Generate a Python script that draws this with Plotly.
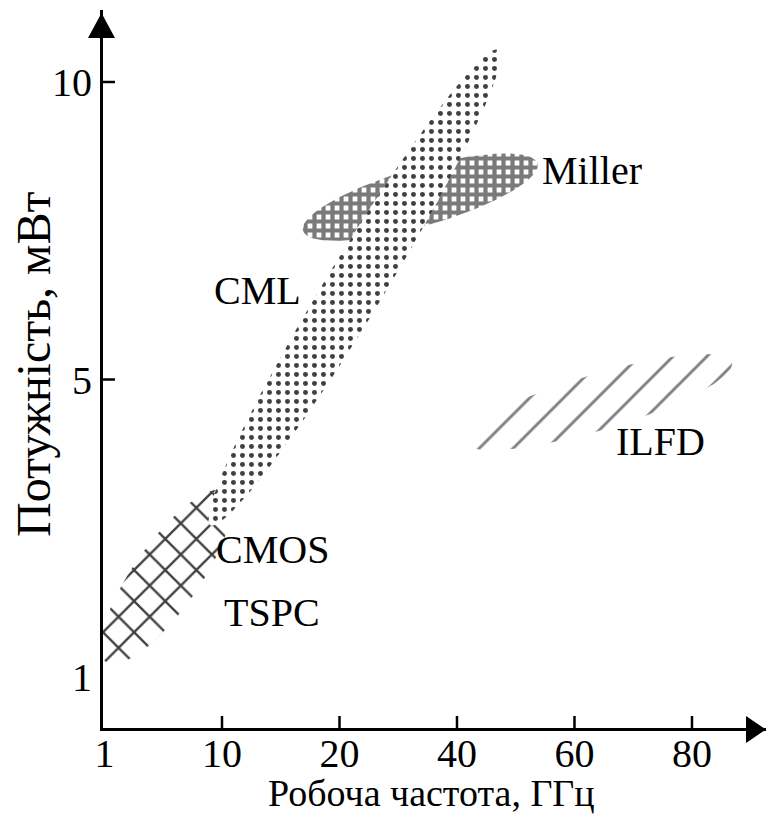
import numpy as np
import plotly.graph_objects as go

# ---------------- data ----------------
freq_ticks = [1, 10, 20, 40, 60, 80]
freq_labels = ["1", "10", "20", "40", "60", "80"]
power_ticks = [1, 5, 10]
power_labels = ["1", "5", "10"]

# regions: major-axis end points (GHz, mW) and half thickness (px)
region_names = ["Miller", "CMOS/TSPC", "CML", "ILFD"]
region_f_start = [16.9, 1.12, 9.1, 41.2]
region_p_start = [7.5, 1.2, 3.04, 4.16]
region_f_end = [53.7, 10.3, 47.1, 86.8]
region_p_end = [8.63, 3.49, 10.54, 5.29]
region_half_width = [29, 33, 29, 28]

label_text = ["Miller", "CML", "ILFD", "CMOS", "TSPC"]
label_f = [63.0, 13.06, 74.7, 14.26, 14.26]
label_p = [8.52, 6.5, 4.17, 2.71, 1.87]

x_title = "Робоча частота, ГГц"
y_title = "Потужність, мВт"

# ---------------- layout constants ----------------
W, H = 766, 816
ML, MR, MT, MB = 103, 0, 10, 88
XR = [-0.0128, 5.63]
YR = [-0.1714, 2.242]
PW, PH = W - ML - MR, H - MT - MB
KX = PW / (XR[1] - XR[0])
KY = PH / (YR[1] - YR[0])
FONT = "Liberation Serif, Times New Roman, serif"


def to_pos(v, ticks):
    ticks = np.asarray(ticks, float)
    idx = np.arange(len(ticks), dtype=float)
    v = np.asarray(v, float)
    p = np.interp(v, ticks, idx)
    p = np.where(v > ticks[-1], idx[-1] + (v - ticks[-1]) / (ticks[-1] - ticks[-2]), p)
    p = np.where(v < ticks[0], (v - ticks[0]) / (ticks[1] - ticks[0]), p)
    return p


def ellipse(i):
    x1 = float(to_pos(region_f_start[i], freq_ticks)) * KX
    y1 = float(to_pos(region_p_start[i], power_ticks)) * KY
    x2 = float(to_pos(region_f_end[i], freq_ticks)) * KX
    y2 = float(to_pos(region_p_end[i], power_ticks)) * KY
    cx, cy = (x1 + x2) / 2, (y1 + y2) / 2
    a = np.hypot(x2 - x1, y2 - y1) / 2
    th = np.arctan2(y2 - y1, x2 - x1)
    b = region_half_width[i]
    t = np.linspace(0, 2 * np.pi, 241)
    X = cx + a * np.cos(t) * np.cos(th) - b * np.sin(t) * np.sin(th)
    Y = cy + a * np.cos(t) * np.sin(th) + b * np.sin(t) * np.cos(th)
    return X / KX, Y / KY


patterns = {
    "Miller": dict(shape="+", size=9, solidity=0.72, fgcolor="#7a7a7a", bgcolor="white", fillmode="replace"),
    "CMOS/TSPC": dict(shape="x", size=22, solidity=0.2, fgcolor="#404040", bgcolor="rgba(0,0,0,0)", fillmode="replace"),
    "CML": dict(shape=".", size=9, solidity=0.24, fgcolor="#404040", bgcolor="white", fillmode="replace"),
    "ILFD": dict(shape="/", size=24, solidity=0.12, fgcolor="#808080", bgcolor="rgba(0,0,0,0)", fillmode="replace"),
}

fig = go.Figure()
for i, name in enumerate(region_names):
    xs, ys = ellipse(i)
    fig.add_trace(go.Scatter(
        x=xs, y=ys, mode="lines", fill="toself",
        line=dict(width=0, color="rgba(0,0,0,0)"),
        fillcolor="rgba(0,0,0,0)",
        fillpattern=patterns[name],
        hoverinfo="skip", showlegend=False, name=name,
    ))

# region labels
for txt, f, p in zip(label_text, label_f, label_p):
    fig.add_annotation(x=float(to_pos(f, freq_ticks)), y=float(to_pos(p, power_ticks)),
                       text=txt, showarrow=False, xanchor="center", yanchor="middle",
                       font=dict(family=FONT, size=40, color="black"))

shapes = []
# tick marks (inward), none at the origin labels
for v in freq_ticks[1:]:
    xp = float(to_pos(v, freq_ticks))
    shapes.append(dict(type="line", xref="x", yref="paper", ysizemode="pixel", yanchor=0,
                       x0=xp, x1=xp, y0=-1, y1=12, line=dict(color="black", width=2.5)))
for v in power_ticks[1:]:
    yp = float(to_pos(v, power_ticks))
    shapes.append(dict(type="line", xref="paper", yref="y", xsizemode="pixel", xanchor=0,
                       x0=-1, x1=12, y0=yp, y1=yp, line=dict(color="black", width=2.5)))
# arrow heads
shapes.append(dict(type="path", xref="paper", yref="paper", xsizemode="pixel", ysizemode="pixel",
                   xanchor=0, yanchor=1, path="M -15,-28 L 12,-28 L -1.5,-3 Z",
                   fillcolor="black", line=dict(width=0)))
shapes.append(dict(type="path", xref="paper", yref="paper", xsizemode="pixel", ysizemode="pixel",
                   xanchor=1, yanchor=0, path="M -20,12 L -20,-15 L 0,-1.5 Z",
                   fillcolor="black", line=dict(width=0)))

# axis titles
fig.add_annotation(xref="paper", yref="paper", x=0.495, y=0, yanchor="bottom", yshift=-MB,
                   text=x_title, showarrow=False, font=dict(family=FONT, size=38, color="black"))
fig.add_annotation(xref="paper", yref="paper", x=0, y=0.5056, xanchor="center", xshift=-69,
                   text=y_title, textangle=-90, showarrow=False,
                   font=dict(family=FONT, size=48, color="black"))

fig.update_layout(
    width=W, height=H,
    margin=dict(l=ML, r=MR, t=MT, b=MB),
    paper_bgcolor="white", plot_bgcolor="white",
    shapes=shapes,
    xaxis=dict(range=XR, showgrid=False, zeroline=False, showline=True, linewidth=3,
               linecolor="black", ticks="", tickvals=list(to_pos(freq_ticks, freq_ticks)),
               ticktext=freq_labels, ticklabelstandoff=-12,
               tickfont=dict(family=FONT, size=40, color="black")),
    yaxis=dict(range=YR, showgrid=False, zeroline=False, showline=True, linewidth=3,
               linecolor="black", ticks="", tickvals=list(to_pos(power_ticks, power_ticks)),
               ticktext=power_labels, tickfont=dict(family=FONT, size=40, color="black")),
)

fig.write_html("out.html")
